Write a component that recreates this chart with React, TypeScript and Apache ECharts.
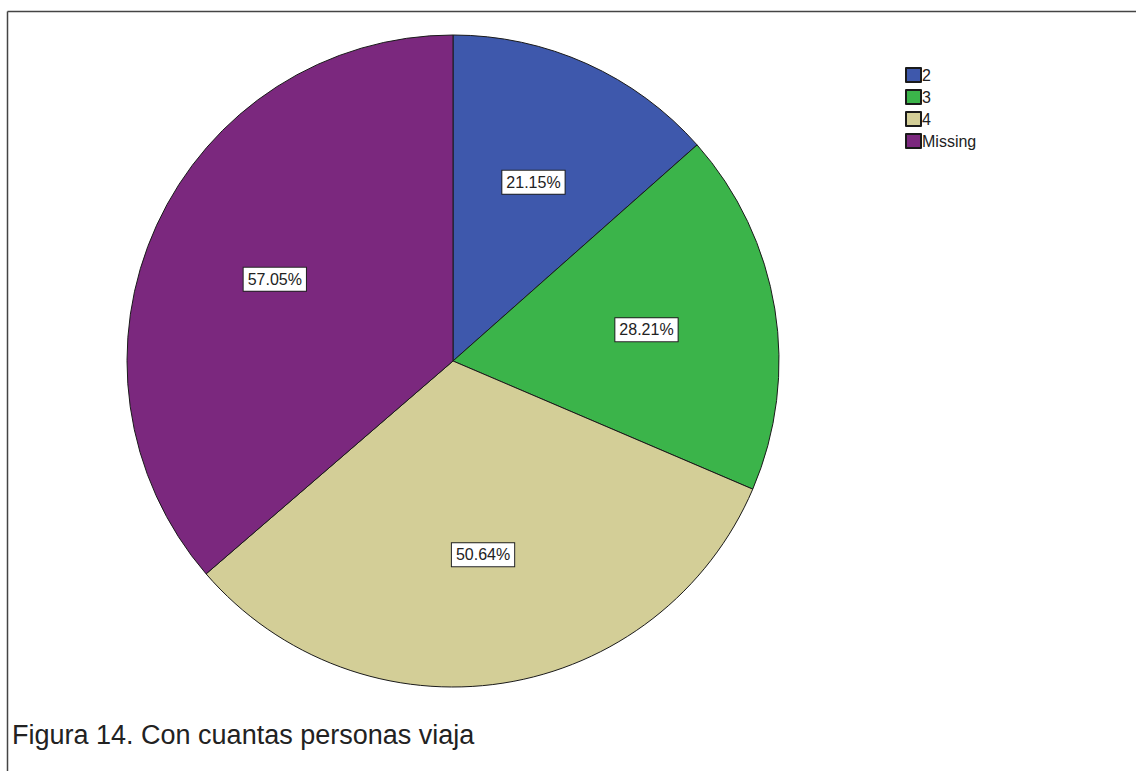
import React, { useEffect, useRef } from "react";
import * as echarts from "echarts";

const categories = ["2", "3", "4", "Missing"];
const percentValues = [21.15, 28.21, 50.64, 57.05];
const colors = ["#3E58AC", "#3BB44A", "#D3CE97", "#7B287E"];
const captionText = "Figura 14. Con cuantas personas viaja";

export default function App() {
  const ref = useRef<HTMLDivElement>(null);
  useEffect(() => {
    if (!ref.current) return;
    const chart = echarts.init(ref.current, undefined, { renderer: "svg" });
    const data = categories.map((c, i) => ({
      name: c,
      value: percentValues[i],
      itemStyle: { color: colors[i] },
    }));
    chart.setOption({
      animation: false,
      backgroundColor: "#ffffff",
      title: {
        text: captionText,
        left: 7,
        top: 716,
        textStyle: {
          fontFamily: "Liberation Sans, Arial, sans-serif",
          fontSize: 27,
          fontWeight: "normal",
          color: "#222222",
        },
      },
      legend: {
        orient: "vertical",
        left: 900,
        top: 62,
        itemWidth: 15,
        itemHeight: 14,
        itemGap: 6,
        icon: "rect",
        data: categories,
        textStyle: {
          fontFamily: "Liberation Sans, Arial, sans-serif",
          fontSize: 16,
          color: "#222222",
          padding: [0, 0, 0, -4],
        },
      },
      graphic: [
        {
          type: "line",
          shape: { x1: 7.5, y1: 11.5, x2: 1136, y2: 11.5 },
          style: { stroke: "#444444", lineWidth: 1.5 },
          silent: true,
        },
        {
          type: "line",
          shape: { x1: 7.5, y1: 11.5, x2: 7.5, y2: 771 },
          style: { stroke: "#444444", lineWidth: 1.5 },
          silent: true,
        },
      ],
      series: [
        {
          type: "pie",
          center: [453, 361],
          radius: [0, 326],
          startAngle: 90,
          clockwise: true,
          data,
          label: { show: false },
          labelLine: { show: false },
          itemStyle: { borderColor: "#1a1a1a", borderWidth: 1 },
          emphasis: { disabled: true },
          silent: true,
        },
        {
          type: "pie",
          center: [453, 361],
          radius: [60, 326],
          startAngle: 90,
          clockwise: true,
          data: categories.map((c, i) => ({ name: c, value: percentValues[i] })),
          itemStyle: { color: "rgba(0,0,0,0)", borderWidth: 0 },
          legendHoverLink: false,
          silent: true,
          emphasis: { disabled: true },
          label: {
            show: true,
            position: "inside",
            formatter: (p: any) => `${p.value.toFixed(2)}%`,
            fontFamily: "Liberation Sans, Arial, sans-serif",
            fontSize: 16,
            color: "#222222",
            backgroundColor: "#ffffff",
            borderColor: "#222222",
            borderWidth: 1,
            padding: [4, 4, 3, 4],
          },
          labelLine: { show: false },
        },
      ],
    });
    return () => chart.dispose();
  }, []);
  return (
    <div
      style={{
        position: "fixed",
        left: 0,
        top: 0,
        width: 1136,
        height: 771,
        background: "#fff",
      }}
    >
      <div ref={ref} style={{ width: 1136, height: 771 }} />
    </div>
  );
}
